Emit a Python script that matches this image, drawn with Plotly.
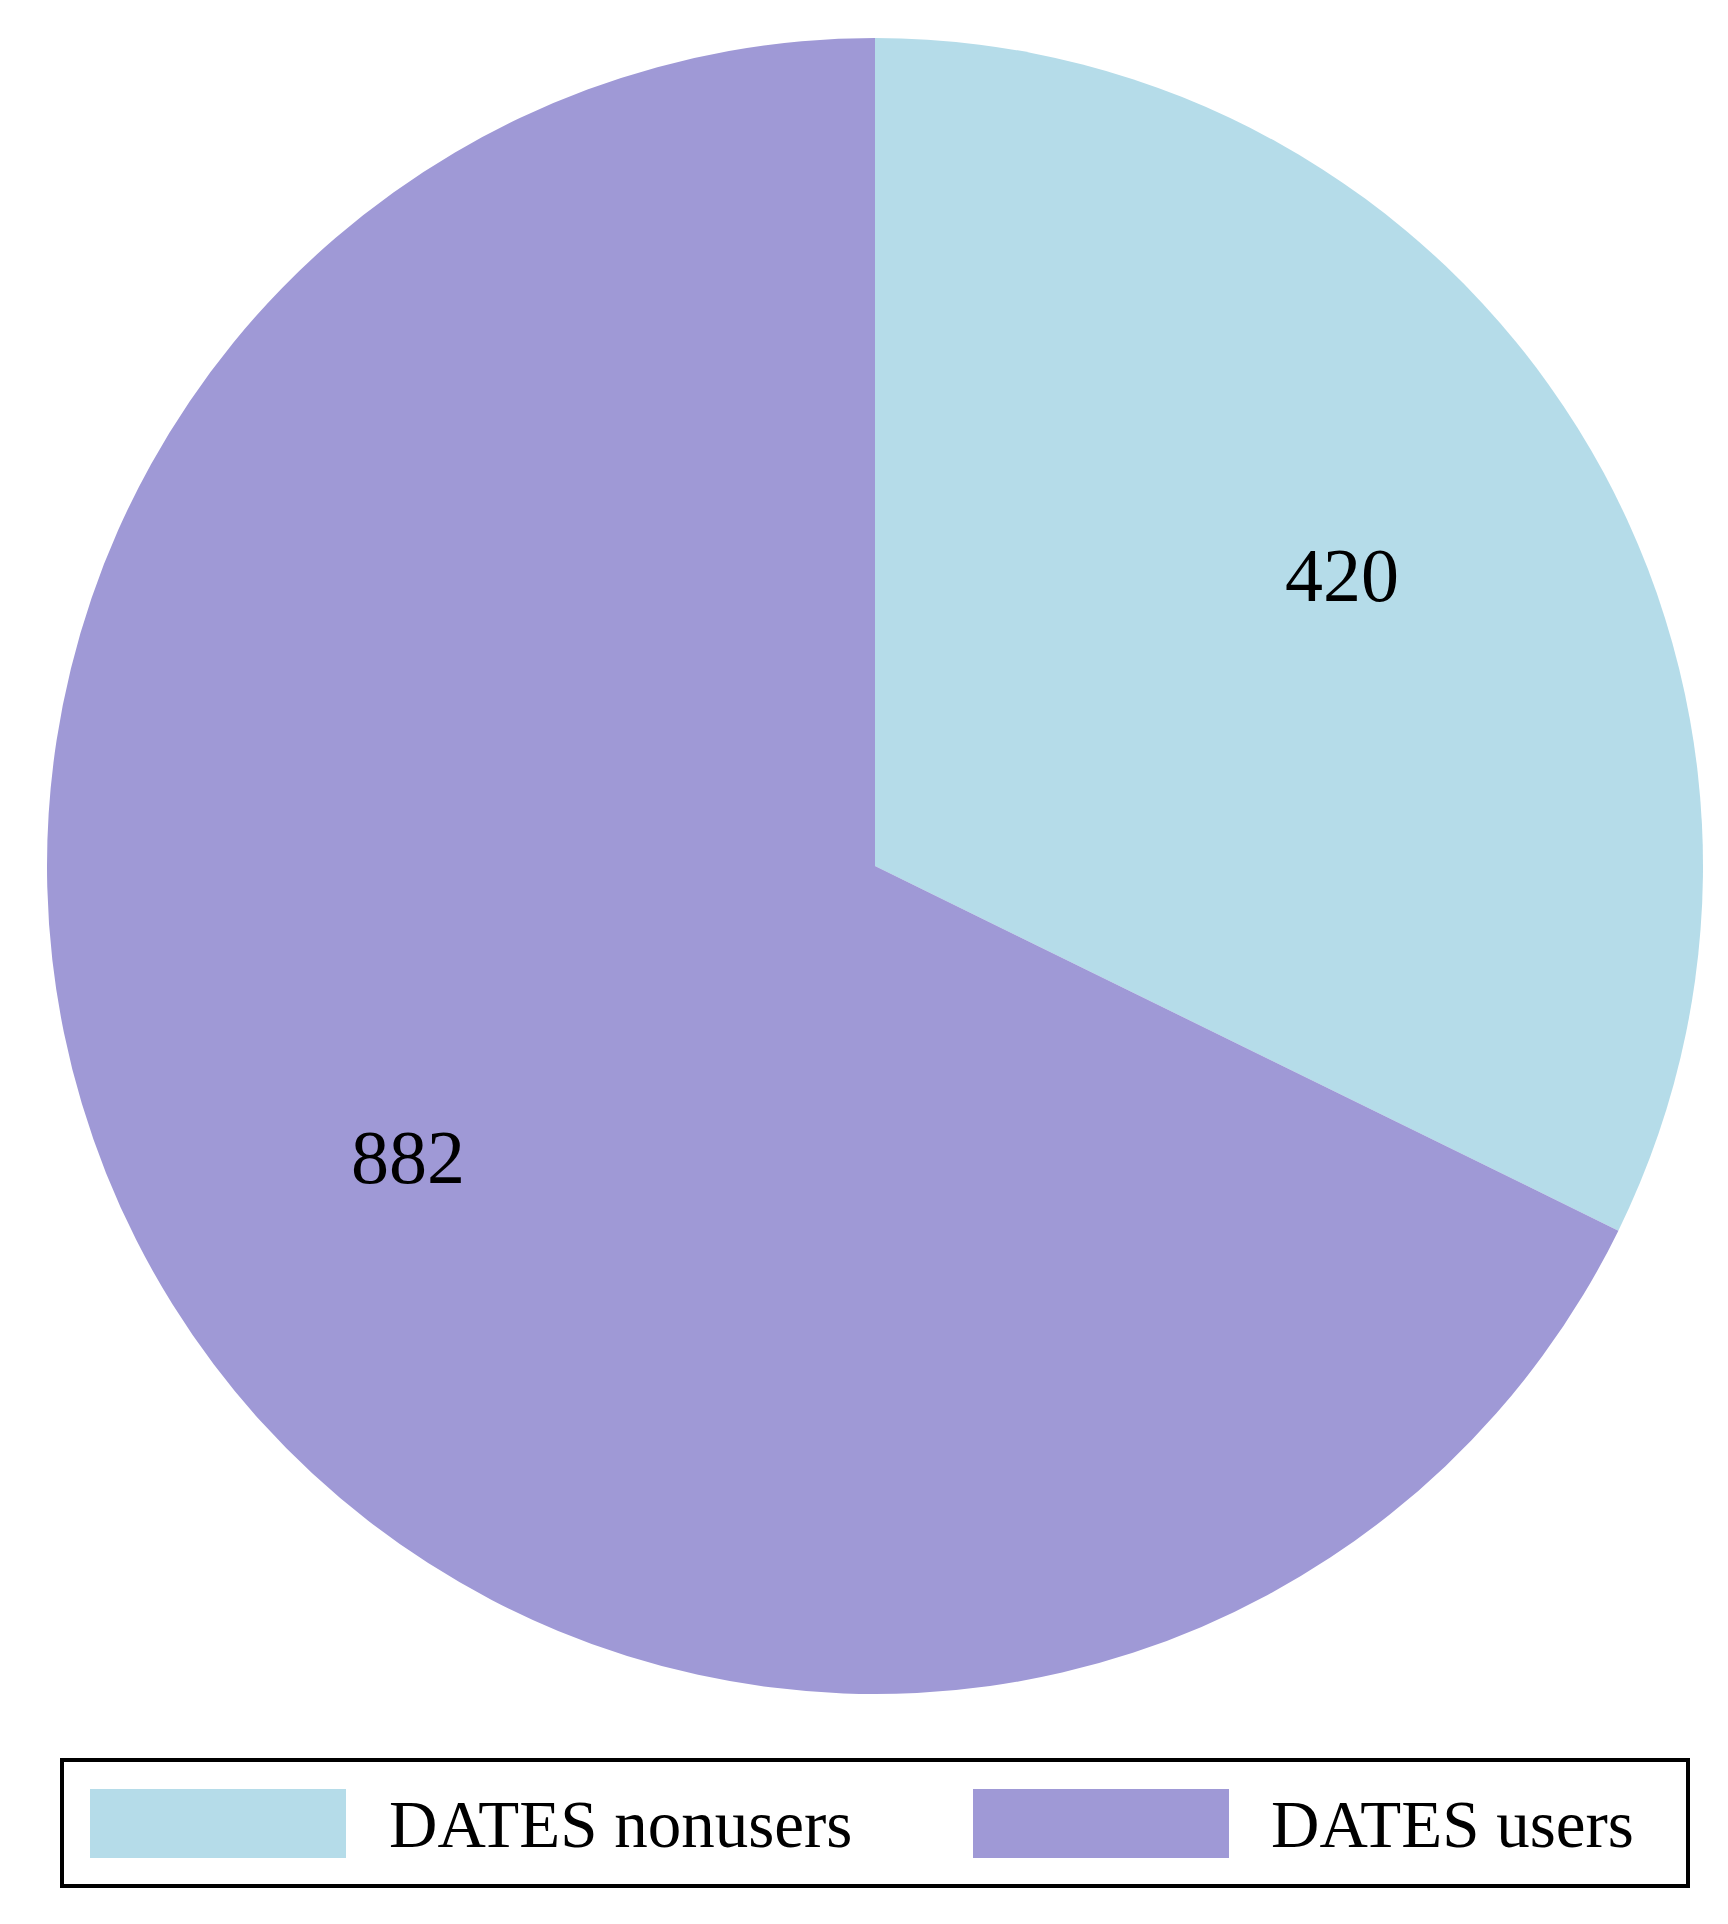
import math
import plotly.graph_objects as go

labels = ["DATES nonusers", "DATES users"]
values = [420, 882]
colors = ["#B5DCE9", "#9F99D6"]

# the page body has an 8px margin, so the figure is drawn 8px in from the corner
OFF = 8
W, H = 1728 - 2 * OFF, 1924 - 2 * OFF


def px(x):
    return (x - OFF) / W


def py(y):
    return 1 - (y - OFF) / H


# pie geometry in page pixels
cx, cy, R = 875, 866, 828

fig = go.Figure()

fig.add_trace(go.Pie(
    labels=labels,
    values=values,
    marker=dict(colors=colors, line=dict(width=0)),
    sort=False,
    direction="clockwise",
    rotation=0,
    textinfo="none",
    domain=dict(x=[px(cx - R), px(cx + R)], y=[py(cy + R), py(cy - R)]),
    showlegend=False,
    hoverinfo="label+value",
))

annotations = []

# value labels at the middle angle of each slice
total = sum(values)
start = 0.0
for v in values:
    mid = (start + v / 2) / total * 2 * math.pi
    start += v
    annotations.append(dict(
        text=str(v), xref="paper", yref="paper",
        x=px(cx + 0.665 * R * math.sin(mid)), y=py(cy - 0.665 * R * math.cos(mid)),
        xanchor="center", yanchor="middle", showarrow=False,
        font=dict(family="Liberation Serif", size=76, color="black")))

# legend drawn by hand so the swatches can be wide rectangles
shapes = [dict(type="rect", xref="paper", yref="paper",
               x0=px(62), x1=px(1688), y0=py(1886), y1=py(1760),
               line=dict(color="black", width=4), fillcolor="white")]
swatch_x = [90, 973]
text_x = [387, 1269]
for i, lab in enumerate(labels):
    shapes.append(dict(type="rect", xref="paper", yref="paper",
                       x0=px(swatch_x[i]), x1=px(swatch_x[i] + 256),
                       y0=py(1858), y1=py(1789),
                       line=dict(width=0), fillcolor=colors[i]))
    annotations.append(dict(text=lab, xref="paper", yref="paper",
                            x=px(text_x[i]), y=py(1824),
                            xanchor="left", yanchor="middle", showarrow=False,
                            font=dict(family="Liberation Serif", size=67, color="black")))

fig.update_layout(
    width=W,
    height=H,
    margin=dict(l=0, r=0, t=0, b=0),
    paper_bgcolor="white",
    plot_bgcolor="white",
    shapes=shapes,
    annotations=annotations,
)

fig.write_html("out.html")
